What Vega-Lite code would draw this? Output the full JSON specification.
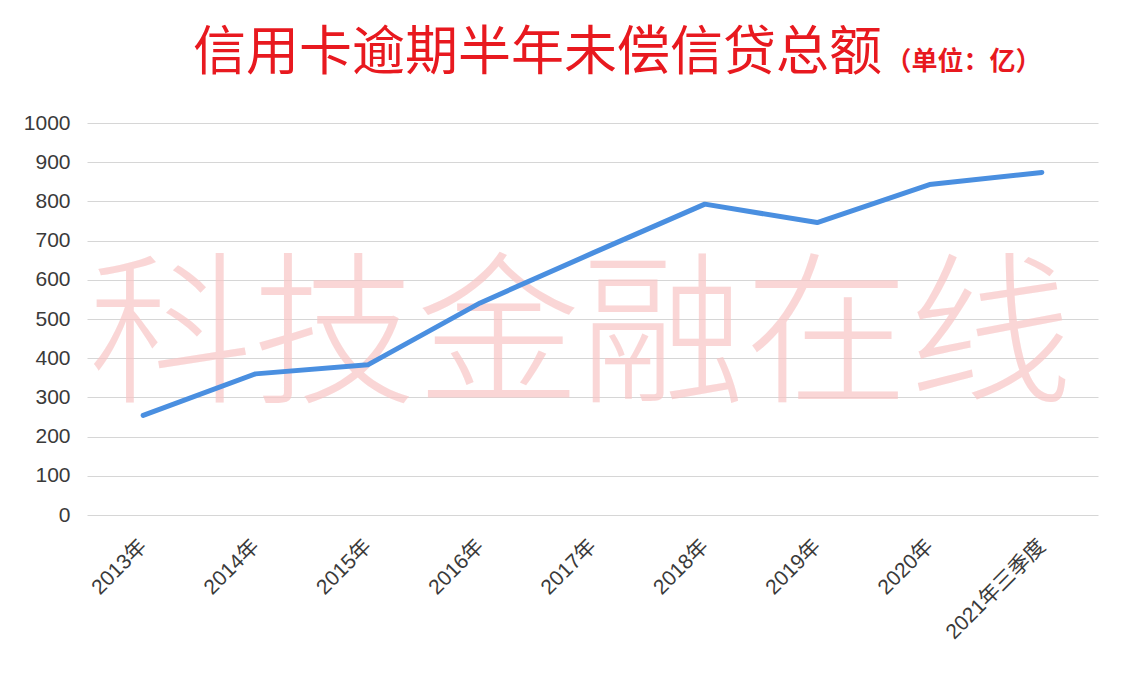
{
  "$schema": "https://vega.github.io/schema/vega-lite/v6.json",
  "width": 1011,
  "height": 392,
  "autosize": {"type": "none"},
  "padding": {"left": 87, "top": 123, "right": 32, "bottom": 163},
  "background": "white",
  "title": {
    "text": "信用卡逾期半年未偿信贷总额",
    "anchor": "start",
    "frame": "group",
    "dx": 106,
    "dy": 76,
    "offset": 43,
    "font": "Noto Sans CJK SC",
    "fontSize": 53,
    "fontWeight": "normal",
    "color": "#e8191f"
  },
  "data": {
    "values": [
      {"year": "2013年", "value": 254},
      {"year": "2014年", "value": 360},
      {"year": "2015年", "value": 383},
      {"year": "2016年", "value": 541},
      {"year": "2017年", "value": 668},
      {"year": "2018年", "value": 793},
      {"year": "2019年", "value": 746},
      {"year": "2020年", "value": 843},
      {"year": "2021年三季度", "value": 874}
    ]
  },
  "layer": [
    {
      "data": {"values": [{"label": "科技金融在线"}]},
      "mark": {
        "type": "text",
        "font": "Noto Sans CJK SC",
        "fontSize": 164,
        "fontWeight": 300,
        "color": "#f8c6c6",
        "opacity": 0.7,
        "align": "center",
        "baseline": "middle",
        "dx": -12
      },
      "encoding": {
        "text": {"field": "label"},
        "x": {"datum": "2017年", "type": "ordinal", "axis": {"title": null}},
        "y": {"datum": 445, "type": "quantitative", "axis": {"title": "（单位：亿）"}}
      }
    },
    {
      "mark": {
        "type": "line",
        "color": "#4a8fe0",
        "strokeWidth": 5,
        "strokeCap": "round",
        "strokeJoin": "round"
      },
      "encoding": {
        "x": {"field": "year", "type": "ordinal", "axis": {"title": null}},
        "y": {
          "field": "value",
          "type": "quantitative",
          "scale": {"domain": [0, 1000]},
          "axis": {"title": "（单位：亿）"}
        }
      }
    }
  ],
  "config": {
    "view": {"stroke": null},
    "scale": {"pointPadding": 0.5},
    "axis": {
      "domain": false,
      "ticks": false,
      "tickSize": 0,
      "labelColor": "#3a3a3a",
      "labelOverlap": false
    },
    "axisX": {
      "grid": false,
      "labelAngle": -45,
      "labelAlign": "right",
      "labelBaseline": "middle",
      "labelPadding": 28,
      "labelFontSize": 21,
      "labelFont": "Liberation Sans, Noto Sans CJK SC"
    },
    "axisY": {
      "grid": true,
      "gridColor": "#d6d6d6",
      "gridWidth": 1,
      "tickCount": 10,
      "format": "d",
      "labelPadding": 17,
      "labelFontSize": 21,
      "labelFont": "Liberation Sans",
      "titleAngle": 0,
      "titleX": 798,
      "titleY": -54,
      "titleAlign": "left",
      "titleBaseline": "alphabetic",
      "titleFont": "Noto Sans CJK SC",
      "titleFontSize": 26,
      "titleFontWeight": "bold",
      "titleColor": "#e8191f"
    }
  }
}
